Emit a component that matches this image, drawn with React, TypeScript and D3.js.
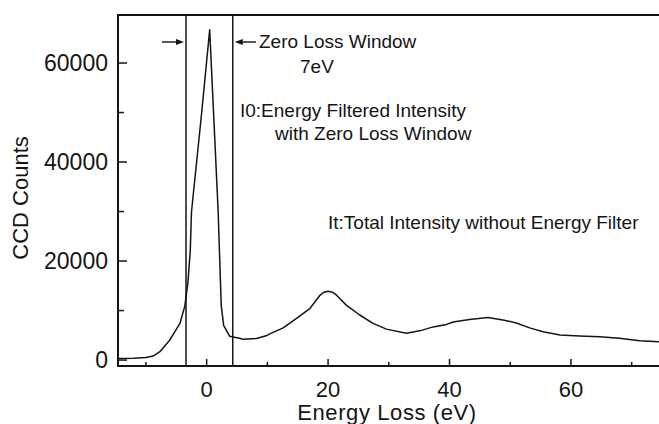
import { useRef, useEffect } from "react";
import * as d3 from "d3";

// energy loss (eV) and CCD counts
const energy = [
  -14.5, -12, -10, -8.8, -7.7, -6.1, -4.4, -3.6, -3.1, -2.7, -2.5, -0.9, 0.5, 1.9, 2.4, 2.8,
  3.8, 5.4, 6.0, 8.2, 9.8, 10.4, 12.6, 14.8, 17.0, 18.6, 19.3, 20.0, 20.7, 21.4, 23.0, 25.2,
  27.4, 29.6, 32.9, 35.1, 37.3, 39.5, 40.6, 43.3, 46.3, 48.8, 51.0, 53.2, 55.4, 58.2, 61.4,
  64.7, 68.0, 71.3, 74.5,
];
const counts = [
  300, 380, 500, 800, 1700, 4000, 7400, 10900, 15500, 22000, 29900, 49000, 66700, 29900, 11000,
  7000, 4800, 4400, 4200, 4350, 4900, 5300, 6500, 8400, 10400, 13000, 13700, 13900, 13700, 13100,
  11100, 9100, 7400, 6250, 5400, 5900, 6700, 7200, 7700, 8200, 8600, 8100, 7500, 6500, 5700,
  5050, 4850, 4700, 4400, 3900, 3700,
];

const xMajor = [0, 20, 40, 60];
const xMinor = [-10, 10, 30, 50, 70];
const yMajor = [0, 20000, 40000, 60000];
const yMinor = [10000, 30000, 50000];
const windowEdges = [-3.4, 4.3];

const FONT = "'Liberation Sans', Arial, Helvetica, sans-serif";

export default function App() {
  const ref = useRef<SVGSVGElement>(null);

  useEffect(() => {
    if (!ref.current) return;
    const W = 659, H = 424;
    const svg = d3.select(ref.current);
    svg.selectAll("*").remove();
    svg.attr("width", W).attr("height", H);

    const x = d3.scaleLinear().domain([-14.6, 74.5]).range([118, 659]);
    const y = d3.scaleLinear().domain([-1200, 69700]).range([366, 15]);
    const x0 = x.range()[0], x1 = x.range()[1];
    const yb = y.range()[0], yt = y.range()[1];
    const ink = "#151515";

    // frame: left, bottom, top
    svg.append("path")
      .attr("d", `M${x1},${yt}H${x0}V${yb}H${x1}`)
      .attr("fill", "none").attr("stroke", ink).attr("stroke-width", 2);

    // x ticks (inward)
    svg.selectAll(".xmaj").data(xMajor).join("line")
      .attr("x1", (d) => x(d)).attr("x2", (d) => x(d))
      .attr("y1", yb).attr("y2", yb - 7)
      .attr("stroke", ink).attr("stroke-width", 1.5);
    svg.selectAll(".xmin").data(xMinor).join("line")
      .attr("x1", (d) => x(d)).attr("x2", (d) => x(d))
      .attr("y1", yb).attr("y2", yb - 4)
      .attr("stroke", ink).attr("stroke-width", 1.5);
    svg.selectAll(".xlab").data(xMajor).join("text")
      .attr("x", (d) => x(d)).attr("y", 397)
      .attr("text-anchor", "middle")
      .attr("font-family", FONT).attr("font-size", 22).attr("fill", ink)
      .text((d) => d);

    // y ticks (inward)
    svg.selectAll(".ymaj").data(yMajor).join("line")
      .attr("x1", x0).attr("x2", x0 + 9)
      .attr("y1", (d) => y(d)).attr("y2", (d) => y(d))
      .attr("stroke", ink).attr("stroke-width", 1.5);
    svg.selectAll(".ymin").data(yMinor).join("line")
      .attr("x1", x0).attr("x2", x0 + 6)
      .attr("y1", (d) => y(d)).attr("y2", (d) => y(d))
      .attr("stroke", ink).attr("stroke-width", 1.5);
    svg.selectAll(".ylab").data(yMajor).join("text")
      .attr("x", 108).attr("y", (d) => y(d)).attr("dy", "0.36em")
      .attr("text-anchor", "end")
      .attr("font-family", FONT).attr("font-size", 23).attr("fill", ink)
      .text((d) => d);

    // axis titles
    svg.append("text")
      .attr("x", 387).attr("y", 420).attr("text-anchor", "middle")
      .attr("font-family", FONT).attr("font-size", 22).attr("letter-spacing", 0.6).attr("fill", ink)
      .text("Energy Loss (eV)");
    svg.append("text")
      .attr("transform", "translate(28,198) rotate(-90)")
      .attr("text-anchor", "middle")
      .attr("font-family", FONT).attr("font-size", 22).attr("fill", ink)
      .text("CCD Counts");

    // zero loss window edges
    svg.selectAll(".win").data(windowEdges).join("line")
      .attr("x1", (d) => x(d)).attr("x2", (d) => x(d))
      .attr("y1", yt).attr("y2", yb)
      .attr("stroke", ink).attr("stroke-width", 1.5);

    // arrows pointing at the window edges
    const ay = 42;
    const arrow = (from: number, to: number) => {
      const dir = Math.sign(to - from);
      svg.append("line")
        .attr("x1", from).attr("x2", to - dir * 6).attr("y1", ay).attr("y2", ay)
        .attr("stroke", ink).attr("stroke-width", 1.4);
      svg.append("path")
        .attr("d", `M${to - 1 * dir},${ay}L${to - dir * 9},${ay - 3}L${to - dir * 9},${ay + 3}Z`)
        .attr("fill", ink);
    };
    arrow(162, x(windowEdges[0]) - 1);
    arrow(256, x(windowEdges[1]) + 1);

    // spectrum
    const pts = energy.map((e, i) => [e, counts[i]] as [number, number]);
    svg.append("path")
      .datum(pts)
      .attr("fill", "none").attr("stroke", ink).attr("stroke-width", 1.5)
      .attr("stroke-linejoin", "round")
      .attr("d", d3.line<[number, number]>().x((d) => x(d[0])).y((d) => y(d[1])));

    // annotations
    const notes: [string, number, number][] = [
      ["Zero Loss Window", 259, 48],
      ["7eV", 300, 73],
      ["I0:Energy Filtered Intensity", 240, 117],
      ["with Zero Loss Window", 275, 140],
      ["It:Total Intensity without Energy Filter", 328, 229],
    ];
    svg.selectAll(".note").data(notes).join("text")
      .attr("x", (d) => d[1]).attr("y", (d) => d[2])
      .attr("font-family", FONT).attr("font-size", 19).attr("fill", ink)
      .text((d) => d[0]);
  }, []);

  return (
    <>
      <style>{`body{margin:0;background:#fff}`}</style>
      <svg ref={ref} style={{ display: "block" }} />
    </>
  );
}
